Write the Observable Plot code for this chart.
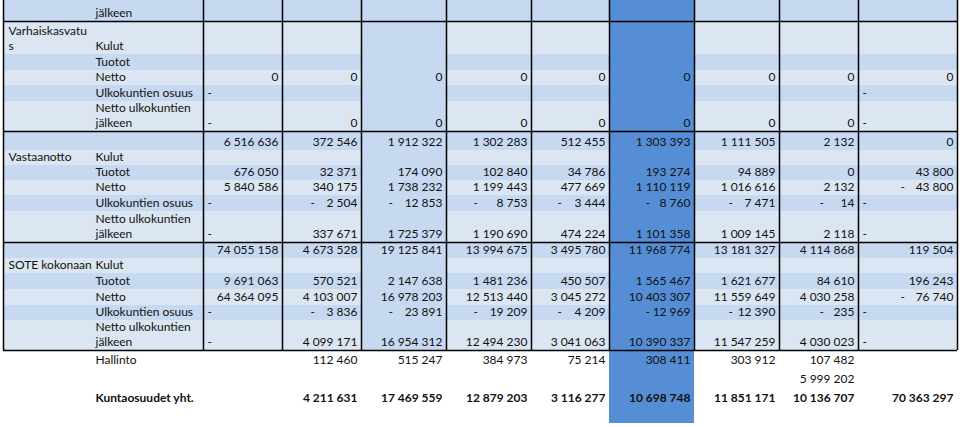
<!DOCTYPE html>
<html><head><meta charset="utf-8">
<script src="https://cdn.jsdelivr.net/npm/d3@7"></script>
<script src="https://cdn.jsdelivr.net/npm/@observablehq/plot@0.6"></script>
<style>html,body{margin:0;padding:0;background:#fff;overflow:hidden}</style>
</head><body><div id="chart"></div>
<script>
// ---------- DATA ----------
const groups = ["Varhaiskasvatus", "Vastaanotto", "SOTE kokonaan"];
const items = ["Kulut", "Tuotot", "Netto", "Ulkokuntien osuus", "Netto ulkokuntien jälkeen"];
const topCarry = "jälkeen";
const bottomLabels = ["Hallinto", "Kuntaosuudet yht."];

const varhaKulut      = [null, null, null, null, null, null, null, null, null];
const varhaTuotot     = [null, null, null, null, null, null, null, null, null];
const varhaNetto      = [0, 0, 0, 0, 0, 0, 0, 0, 0];
const varhaUlko       = ["-", null, null, null, null, null, null, null, "-"];
const varhaNettoUlko  = ["-", 0, 0, 0, 0, 0, 0, 0, "-"];

const vastKulut       = [6516636, 372546, 1912322, 1302283, 512455, 1303393, 1111505, 2132, 0];
const vastTuotot      = [676050, 32371, 174090, 102840, 34786, 193274, 94889, 0, 43800];
const vastNetto       = [5840586, 340175, 1738232, 1199443, 477669, 1110119, 1016616, 2132, -43800];
const vastUlko        = ["-", -2504, -12853, -8753, -3444, -8760, -7471, -14, "-"];
const vastNettoUlko   = ["-", 337671, 1725379, 1190690, 474224, 1101358, 1009145, 2118, "-"];

const soteKulut       = [74055158, 4673528, 19125841, 13994675, 3495780, 11968774, 13181327, 4114868, 119504];
const soteTuotot      = [9691063, 570521, 2147638, 1481236, 450507, 1565467, 1621677, 84610, 196243];
const soteNetto       = [64364095, 4103007, 16978203, 12513440, 3045272, 10403307, 11559649, 4030258, -76740];
const soteUlko        = ["-", -3836, -23891, -19209, -4209, -12969, -12390, -235, "-"];
const soteNettoUlko   = ["-", 4099171, 16954312, 12494230, 3041063, 10390337, 11547259, 4030023, "-"];

const hallinto        = [null, 112460, 515247, 384973, 75214, 308411, 303912, 107482, null];
const lisaRivi        = [null, null, null, null, null, null, null, 5999202, null];
const kuntaosuudet    = [null, 4211631, 17469559, 12879203, 3116277, 10698748, 11851171, 10136707, 70363297];

// ---------- LAYOUT / STYLE ----------
const LIGHT = "#dce6f2", MID = "#c6d9f1", DARK = "#558ed5";
const LEFT = 3;
const colWidths = [200, 79, 79, 85, 85, 78, 85, 85, 79, 99];
const dashInset = [5, 28, 27, 27, 26, 36, 34, 40, 42];
const rowHeights = [21, 33, 16, 15, 16, 30, 19, 15, 15, 15, 16, 31, 16, 15, 16, 16, 15, 30, 18, 19, 19, 17];
const groupInset = 5, itemInset = 92, numPad = 4;
const wrapMap = {"Varhaiskasvatus": "Varhaiskasvatu\ns", "Netto ulkokuntien jälkeen": "Netto ulkokuntien\njälkeen"};
const wrap = s => wrapMap[s] ?? s;

const colEdges = [LEFT]; colWidths.forEach(w => colEdges.push(colEdges[colEdges.length - 1] + w));
const rowEdges = [0]; rowHeights.forEach(h => rowEdges.push(rowEdges[rowEdges.length - 1] + h));

const sheet = [
  {band: MID, item: topCarry},
  {band: LIGHT, group: groups[0], item: items[0], values: varhaKulut},
  {band: MID, item: items[1], values: varhaTuotot},
  {band: LIGHT, item: items[2], values: varhaNetto},
  {band: MID, item: items[3], values: varhaUlko},
  {band: LIGHT, item: items[4], values: varhaNettoUlko},
  {band: MID, values: vastKulut},
  {band: LIGHT, group: groups[1], item: items[0]},
  {band: MID, item: items[1], values: vastTuotot},
  {band: LIGHT, item: items[2], values: vastNetto},
  {band: MID, item: items[3], values: vastUlko},
  {band: LIGHT, item: items[4], values: vastNettoUlko},
  {band: MID, values: soteKulut},
  {band: LIGHT, group: groups[2], item: items[0]},
  {band: MID, item: items[1], values: soteTuotot},
  {band: LIGHT, item: items[2], values: soteNetto},
  {band: MID, item: items[3], values: soteUlko},
  {band: LIGHT, item: items[4], values: soteNettoUlko},
  {item: bottomLabels[0], values: hallinto},
  {values: lisaRivi},
  {item: bottomLabels[1], values: kuntaosuudet, bold: true},
  {}
];
const tableRows = 18;
const tableBottom = rowEdges[tableRows];
const fmt = d3.formatLocale({decimal: ",", thousands: " ", grouping: [3], currency: ["", "€"]}).format(",d");

// ---------- BUILD MARK DATA ----------
const rects = [];
sheet.forEach((r, i) => {
  if (r.band) rects.push({x1: colEdges[0], x2: colEdges[colEdges.length - 1], y1: rowEdges[i], y2: rowEdges[i + 1], fill: r.band});
});
rects.push({x1: colEdges[3], x2: colEdges[4], y1: 0, y2: tableBottom, fill: MID});
rects.push({x1: colEdges[6], x2: colEdges[7], y1: 0, y2: rowEdges[rowEdges.length - 1], fill: DARK});

const vLines = colEdges.map(x => ({x, y1: 0, y2: tableBottom}));
const hLines = [1, 6, 12, 18].map(i => ({y: rowEdges[i], x1: colEdges[0], x2: colEdges[colEdges.length - 1]}));

const startTexts = [], endTexts = [], boldStart = [], boldEnd = [];
sheet.forEach((r, i) => {
  const y = rowEdges[i + 1];
  const S = r.bold ? boldStart : startTexts, E = r.bold ? boldEnd : endTexts;
  if (r.group) S.push({x: LEFT + groupInset, y, text: wrap(r.group)});
  if (r.item) S.push({x: LEFT + itemInset, y, text: wrap(r.item)});
  (r.values || []).forEach((v, c) => {
    const left = colEdges[c + 1], right = colEdges[c + 2];
    if (v == null) return;
    if (v === "-") { S.push({x: left + 4, y, text: "-"}); return; }
    if (v < 0) {
      S.push({x: left + dashInset[c], y, text: "-"});
      E.push({x: right - numPad, y, text: fmt(-v)});
    } else {
      E.push({x: right - numPad, y, text: fmt(v)});
    }
  });
});

const textOpts = {x: "x", y: "y", text: "text", lineAnchor: "bottom", dy: -4.5, lineHeight: 1.25, fontSize: 12, fill: "#111"};

const chart = Plot.plot({
  width: 960, height: 427, margin: 0,
  x: {type: "linear", domain: [0, 960], range: [0, 960], axis: null},
  y: {type: "linear", domain: [0, 427], range: [0, 427], axis: null},
  color: {type: "identity"},
  style: {background: "#fff", fontFamily: "Lato, 'Open Sans', sans-serif"},
  marks: [
    Plot.rect(rects, {x1: "x1", x2: "x2", y1: "y1", y2: "y2", fill: "fill"}),
    Plot.ruleX(vLines, {x: "x", y1: "y1", y2: "y2", stroke: "#000", strokeWidth: 1.5}),
    Plot.ruleY(hLines, {y: "y", x1: "x1", x2: "x2", stroke: "#000", strokeWidth: 1.5}),
    Plot.text(startTexts, {...textOpts, textAnchor: "start"}),
    Plot.text(endTexts, {...textOpts, textAnchor: "end"}),
    Plot.text(boldStart, {...textOpts, textAnchor: "start", fontWeight: "bold"}),
    Plot.text(boldEnd, {...textOpts, textAnchor: "end", fontWeight: "bold"})
  ]
});
document.getElementById("chart").appendChild(chart);
</script>
</body></html>
